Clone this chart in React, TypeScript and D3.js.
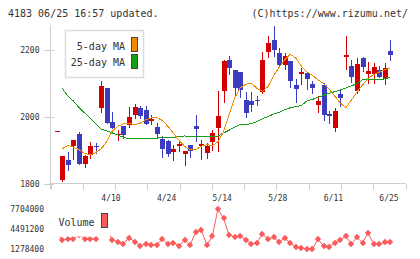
import React, { useEffect, useRef } from "react";
import * as d3 from "d3";

// daily candles, 3/28 .. 6/25
const opens = [1958, 1813, 1873, 1913, 1950, 1860, 1888, 1914, 2027, 2086, 1985, 1947, 1974, 1977, 2005, 2027, 2022, 1990, 1971, 1936, 1928, 1895, 1913, 1890, 1918, 1975, 1913, 1893, 1925, 1969, 2079, 2170, 2141, 2133, 2051, 2049, 2050, 2076, 2195, 2230, 2192, 2155, 2168, 2096, 2128, 2131, 2099, 2037, 2096, 2010, 1967, 2069, 2180, 2153, 2078, 2175, 2128, 2128, 2141, 2114, 2197];
const closes = [1958, 1883, 1856, 1932, 1860, 1883, 1915, 1912, 2093, 1982, 1969, 1950, 1947, 2000, 2030, 2002, 1979, 1995, 1951, 1905, 1890, 1906, 1920, 1898, 1898, 1966, 1921, 1913, 1952, 2002, 2168, 2147, 2088, 2081, 2012, 2037, 2049, 2170, 2220, 2200, 2155, 2182, 2109, 2084, 2133, 2113, 2088, 2049, 2007, 2002, 2019, 2058, 2185, 2121, 2158, 2150, 2138, 2149, 2119, 2146, 2185];
const highs = [1958, 1885, 1896, 1933, 1955, 1888, 1927, 1923, 2109, 2087, 2015, 1962, 1975, 2030, 2039, 2034, 2034, 2005, 1982, 1942, 1933, 1916, 1930, 1898, 1918, 2007, 1931, 1923, 1962, 2078, 2170, 2183, 2141, 2133, 2076, 2076, 2063, 2195, 2242, 2272, 2205, 2190, 2168, 2114, 2146, 2135, 2109, 2063, 2103, 2019, 2027, 2081, 2242, 2170, 2175, 2180, 2165, 2162, 2153, 2161, 2230];
const lows = [1958, 1811, 1843, 1875, 1860, 1853, 1878, 1893, 2014, 1982, 1969, 1933, 1938, 1972, 1997, 1997, 1979, 1979, 1939, 1880, 1883, 1873, 1898, 1858, 1880, 1930, 1875, 1878, 1903, 1900, 2046, 2128, 2066, 2061, 1999, 2017, 2037, 2071, 2180, 2183, 2155, 2143, 2091, 2046, 2099, 2084, 2071, 2014, 1992, 1984, 1960, 2034, 2143, 2106, 2073, 2138, 2103, 2101, 2119, 2099, 2170];

const ma5 = [null, 1906, 1916, 1911, 1903, 1892, 1888, 1894, 1906, 1927, 1959, 1973, 1980, 1982, 1977, 1982, 1992, 1998, 1999, 1990, 1973, 1952, 1931, 1913, 1903, 1903, 1913, 1918, 1915, 1927, 1956, 2007, 2057, 2087, 2098, 2101, 2086, 2077, 2091, 2123, 2148, 2170, 2187, 2176, 2152, 2135, 2124, 2111, 2100, 2083, 2063, 2042, 2028, 2051, 2075, 2096, 2115, 2127, 2134, 2141, 2146];
const ma25 = [null, 2086, 2063, 2048, 2029, 2013, 1997, 1980, 1964, 1959, 1953, 1947, 1940, 1935, 1935, 1935, 1935, 1935, 1938, 1941, 1940, 1939, 1942, 1944, 1942, 1941, 1941, 1941, 1941, 1944, 1953, 1961, 1970, 1979, 1979, 1980, 1987, 1995, 2002, 2009, 2014, 2022, 2028, 2031, 2035, 2048, 2053, 2059, 2065, 2071, 2076, 2081, 2087, 2093, 2100, 2111, 2111, 2111, 2111, 2114, 2120];

const volumes = [3981400, 2686500, 2848400, 2848400, 3576700, 2848400, 2848400, 2848400, 4628800, 4305100, 2686500, 2411400, 2039100, 3058800, 2411400, 1715400, 2039100, 1877300, 1877300, 2848400, 2039100, 2249500, 1715400, 2686500, 1877300, 3932800, 4305100, 1877300, 3333900, 7704000, 6198800, 3495800, 3220600, 3333900, 2686500, 2039100, 2249500, 3657700, 2848400, 3123500, 2411400, 2961700, 2249500, 1505000, 1343100, 1278400, 1285000, 2799800, 1715400, 1602100, 2249500, 2686500, 3333900, 2039100, 3123500, 2249500, 3770900, 2039100, 2039100, 2314300, 2314300];

const dateTicks = [[10, "4/10"], [20, "4/24"], [30, "5/14"], [40, "5/28"], [50, "6/11"], [60, "6/25"]];
const priceTicks = [1800, 2000, 2200];
const volumeTicks = [1278400, 4491200, 7704000];

const RED = "#d20000";
const BLUE = "#3c3cbe";
const ORANGE = "#f08c00";
const GREEN = "#14a014";
const VOL = "#fa5a5a";
const FONT = "'DejaVu Sans Mono', monospace";

export default function App() {
  const ref = useRef(null);

  useEffect(() => {
    const svg = d3.select(ref.current);
    svg.selectAll("*").remove();

    const x = d3.scaleLinear().domain([0, closes.length - 1]).range([56.7, 390.3]);
    const y = d3.scaleLinear().domain([1800, 2200]).range([184.3, 50]);
    const yv = d3.scaleLinear().domain([1278400, 7704000]).range([248.7, 209]);
    const grid = d3.scaleLinear().domain([0, 11]).range([50.5, 405.5]);

    // header
    svg.append("text").attr("x", 8).attr("y", 16.5).text("4183 06/25 16:57 updated.")
      .attr("font-family", FONT).attr("font-size", 10).attr("fill", "#333");
    svg.append("text").attr("x", 408).attr("y", 16.5).attr("text-anchor", "end")
      .text("(C)https://www.rizumu.net/")
      .attr("font-family", FONT).attr("font-size", 10).attr("fill", "#333");

    // axes
    const axis = svg.append("g").attr("stroke", "#cfcfcf").attr("shape-rendering", "crispEdges");
    axis.append("line").attr("x1", 50.5).attr("x2", 50.5).attr("y1", 25).attr("y2", 189);
    axis.append("line").attr("x1", 50).attr("x2", 406).attr("y1", 183.5).attr("y2", 183.5);
    axis.selectAll(".xt").data(d3.range(12)).join("line")
      .attr("x1", d => Math.round(grid(d)) + 0.5).attr("x2", d => Math.round(grid(d)) + 0.5)
      .attr("y1", 183.5).attr("y2", 189.5);
    axis.selectAll(".yt").data(priceTicks).join("line")
      .attr("x1", 44).attr("x2", 54)
      .attr("y1", d => Math.round(y(d)) + 0.5).attr("y2", d => Math.round(y(d)) + 0.5);

    svg.selectAll(".plab").data(priceTicks).join("text")
      .attr("x", 39.5).attr("y", d => y(d) + 3).attr("text-anchor", "end")
      .text(d => d).attr("font-family", FONT).attr("font-size", 8).attr("fill", "#333");

    svg.selectAll(".dlab").data(dateTicks).join("text")
      .attr("x", d => x(d[0]) - 1.3).attr("y", 200.5).attr("text-anchor", "middle")
      .text(d => d[1]).attr("font-family", FONT).attr("font-size", 8).attr("fill", "#333");

    svg.selectAll(".vlab").data(volumeTicks).join("text")
      .attr("x", 44).attr("y", d => yv(d) + 3).attr("text-anchor", "end")
      .text(d => d).attr("font-family", FONT).attr("font-size", 8).attr("fill", "#333");

    // candles
    const idx = d3.range(closes.length);
    const candles = svg.append("g").attr("shape-rendering", "crispEdges");
    const color = i => (closes[i] >= opens[i] ? RED : BLUE);
    candles.selectAll(".wick").data(idx).join("rect")
      .attr("x", i => Math.round(x(i)))
      .attr("width", 1)
      .attr("y", i => Math.round(y(highs[i])))
      .attr("height", i => Math.round(y(lows[i])) - Math.round(y(highs[i])) + 1)
      .attr("fill", color);
    candles.selectAll(".body").data(idx).join("rect")
      .attr("x", i => Math.round(x(i)) - 2)
      .attr("width", 5)
      .attr("y", i => Math.round(y(Math.max(opens[i], closes[i]))))
      .attr("height", i => Math.max(1, Math.round(y(Math.min(opens[i], closes[i]))) - Math.round(y(Math.max(opens[i], closes[i])))))
      .attr("fill", color);

    // moving averages
    const maLine = d3.line().defined(d => d[1] != null).x(d => x(d[0])).y(d => y(d[1]));
    svg.append("path").attr("d", maLine(ma25.map((v, i) => [i, v])))
      .attr("fill", "none").attr("stroke", GREEN).attr("stroke-width", 1).attr("shape-rendering", "crispEdges");
    svg.append("path").attr("d", maLine(ma5.map((v, i) => [i, v])))
      .attr("fill", "none").attr("stroke", ORANGE).attr("stroke-width", 1).attr("shape-rendering", "crispEdges");

    // volume
    const volLine = d3.line().x(i => x(i)).y(i => yv(volumes[i]));
    svg.append("path").attr("d", volLine(idx))
      .attr("fill", "none").attr("stroke", VOL).attr("stroke-width", 1);
    svg.selectAll(".vm").data(idx).join("path")
      .attr("d", "M0,-3.2L3.2,0L0,3.2L-3.2,0Z")
      .attr("transform", i => `translate(${Math.round(x(i))},${Math.round(yv(volumes[i]))})`)
      .attr("fill", VOL);

    // legends
    const leg = svg.append("g");
    leg.append("rect").attr("x", 65.5).attr("y", 30.5).attr("width", 78).attr("height", 47)
      .attr("fill", "#fff").attr("stroke", "#dcdcdc").attr("stroke-width", 1.5);
    [["5-day MA", ORANGE, 49.5, 37.5], ["25-day MA", GREEN, 66, 54.5]].forEach(([label, c, ty, ry]) => {
      leg.append("text").attr("x", 125).attr("y", ty).attr("text-anchor", "end").text(label)
        .attr("font-family", FONT).attr("font-size", 10).attr("fill", "#333");
      leg.append("rect").attr("x", 131.5).attr("y", ry).attr("width", 6).attr("height", 14)
        .attr("fill", c).attr("stroke", "#444").attr("stroke-width", 1);
    });

    const vleg = svg.append("g");
    vleg.append("rect").attr("x", 53).attr("y", 203).attr("width", 57).attr("height", 33.5).attr("fill", "#fff");
    vleg.append("text").attr("x", 58.5).attr("y", 225.5).text("Volume")
      .attr("font-family", FONT).attr("font-size", 10).attr("fill", "#333");
    vleg.append("rect").attr("x", 101.5).attr("y", 213.5).attr("width", 6).attr("height", 14)
      .attr("fill", VOL).attr("stroke", "#444").attr("stroke-width", 1);
  }, []);

  return (
    <svg ref={ref} width={420} height={259}
      style={{ position: "absolute", left: 0, top: 0, background: "#fff" }} />
  );
}
